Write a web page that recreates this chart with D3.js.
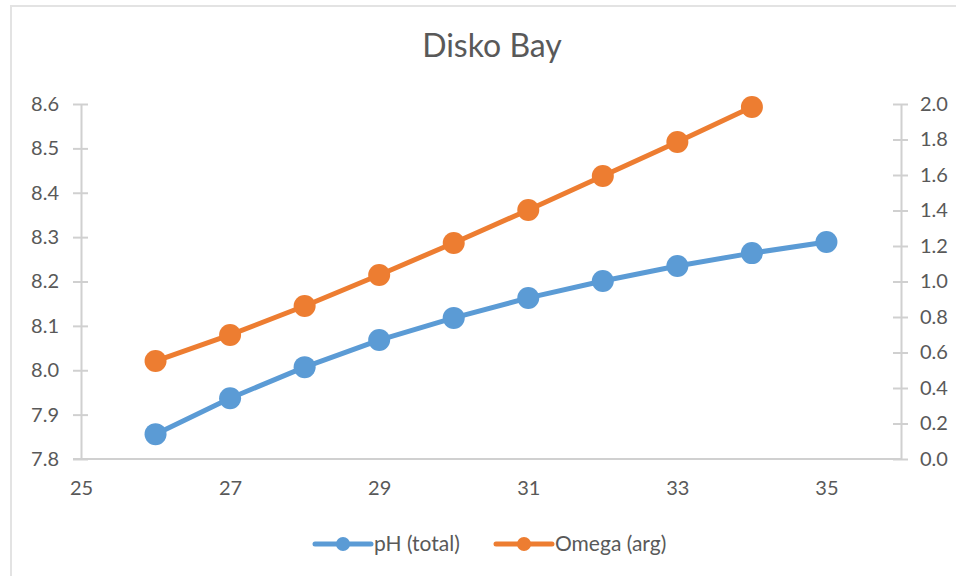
<!DOCTYPE html>
<html>
<head>
<meta charset="utf-8">
<script src="https://cdn.jsdelivr.net/npm/d3@7"></script>
<style>
  html, body { margin: 0; padding: 0; background: #fff; }
  svg { display: block; font-family: Lato, "Open Sans", sans-serif; }
</style>
</head>
<body>
<svg id="chart" width="956" height="576"></svg>
<script>
// Salinity steps and the carbonate-system values computed at each
const salinity = [26, 27, 28, 29, 30, 31, 32, 33, 34, 35];
const phTotal = [7.856, 7.937, 8.007, 8.068, 8.118, 8.163, 8.201, 8.235, 8.264, 8.289];
const omegaSalinity = [26, 27, 28, 29, 30, 31, 32, 33, 34];
const omegaArg = [0.552, 0.699, 0.862, 1.037, 1.217, 1.403, 1.594, 1.786, 1.983];

const xTicks = [25, 27, 29, 31, 33, 35];
const leftTicks = [7.8, 7.9, 8.0, 8.1, 8.2, 8.3, 8.4, 8.5, 8.6];
const rightTicks = [0.0, 0.2, 0.4, 0.6, 0.8, 1.0, 1.2, 1.4, 1.6, 1.8, 2.0];

const seriesNames = ["pH (total)", "Omega (arg)"];
const colors = ["#5B9BD5", "#ED7D31"];

const svg = d3.select("#chart");
const textColor = "#595959";
const axisColor = "#D0D0D0";
const fontFamily = "Lato, 'Open Sans', sans-serif";

// outer chart frame
svg.append("rect")
  .attr("x", 11).attr("y", 6)
  .attr("width", 960).attr("height", 600)
  .attr("fill", "#fff")
  .attr("stroke", "#E3E3E3").attr("stroke-width", 2);

const plot = { left: 81, right: 901, top: 104, bottom: 459 };

const x = d3.scaleLinear().domain([25, 36]).range([plot.left, plot.right]);
const yL = d3.scaleLinear().domain([7.8, 8.6]).range([plot.bottom, plot.top]);
const yR = d3.scaleLinear().domain([0, 2]).range([plot.bottom, plot.top]);

// title
svg.append("text")
  .attr("x", 492).attr("y", 57)
  .attr("text-anchor", "middle")
  .attr("font-size", 32)
  .attr("font-weight", 400)
  .attr("fill", textColor)
  .text("Disko Bay");

function styleAxis(g) {
  g.attr("font-family", fontFamily);
  g.select(".domain").attr("stroke", axisColor).attr("stroke-width", 2);
  g.selectAll(".tick line").attr("stroke", axisColor).attr("stroke-width", 2);
  g.selectAll(".tick text")
    .attr("fill", textColor)
    .attr("font-family", fontFamily)
    .attr("font-size", 20);
}

// left axis (pH)
const gL = svg.append("g")
  .attr("transform", `translate(${plot.left},0)`)
  .call(d3.axisLeft(yL).tickValues(leftTicks).tickFormat(d3.format(".1f"))
    .tickSize(8).tickSizeOuter(0).tickPadding(14));
styleAxis(gL);
gL.selectAll(".tick line").attr("x2", 7).attr("x1", -8);

// right axis (Omega)
const gR = svg.append("g")
  .attr("transform", `translate(${plot.right},0)`)
  .call(d3.axisRight(yR).tickValues(rightTicks).tickFormat(d3.format(".1f"))
    .tickSize(8).tickSizeOuter(0).tickPadding(11));
styleAxis(gR);
gR.selectAll(".tick line").attr("x1", -8).attr("x2", 7);

// bottom axis (salinity)
const gB = svg.append("g")
  .attr("transform", `translate(0,${plot.bottom})`)
  .call(d3.axisBottom(x).tickValues(xTicks).tickFormat(d3.format("d"))
    .tickSize(0).tickSizeOuter(0).tickPadding(22));
styleAxis(gB);
gB.select(".domain").attr("d", `M${plot.left - 8},0H${plot.right}`);

// series
const data = [
  salinity.map((s, i) => ({ s, v: phTotal[i], y: yL })),
  omegaSalinity.map((s, i) => ({ s, v: omegaArg[i], y: yR }))
];

data.forEach((pts, k) => {
  const line = d3.line().x(d => x(d.s)).y(d => d.y(d.v));
  const g = svg.append("g");
  g.append("path")
    .datum(pts)
    .attr("d", line)
    .attr("fill", "none")
    .attr("stroke", colors[k])
    .attr("stroke-width", 5)
    .attr("stroke-linejoin", "round");
  g.selectAll("circle")
    .data(pts)
    .join("circle")
    .attr("cx", d => x(d.s))
    .attr("cy", d => d.y(d.v))
    .attr("r", 11)
    .attr("fill", colors[k]);
});

// legend
const legendX = [315, 496];
seriesNames.forEach((name, k) => {
  const g = svg.append("g").attr("transform", `translate(${legendX[k]},544)`);
  g.append("line")
    .attr("x1", 0).attr("x2", 56)
    .attr("stroke", colors[k]).attr("stroke-width", 5)
    .attr("stroke-linecap", "round");
  g.append("circle").attr("cx", 28).attr("r", 7).attr("fill", colors[k]);
  g.append("text")
    .attr("x", 59).attr("y", 0)
    .attr("dy", "0.35em")
    .attr("font-size", 21)
    .attr("fill", textColor)
    .text(name);
});
</script>
</body>
</html>
